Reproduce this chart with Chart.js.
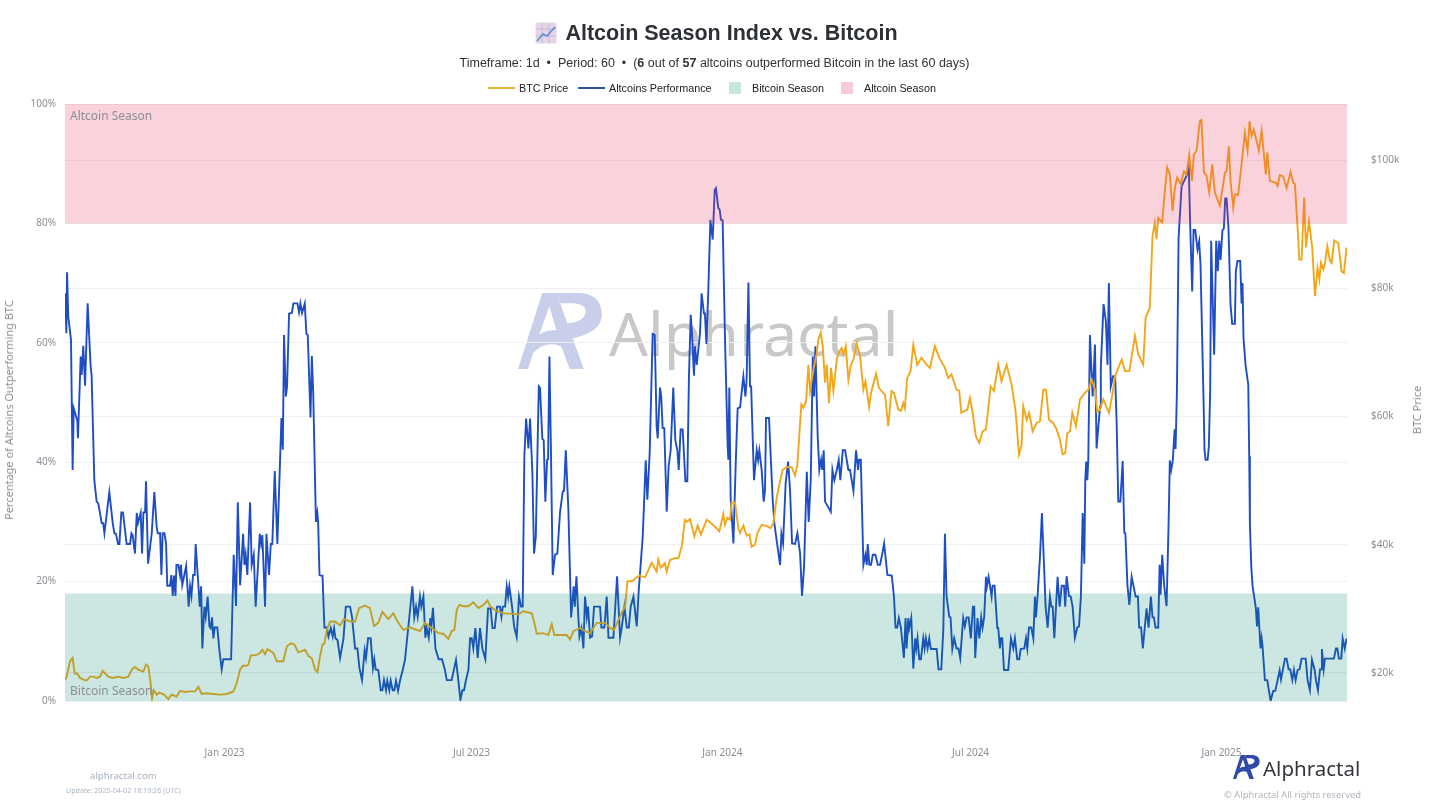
<!DOCTYPE html>
<html>
<head>
<meta charset="utf-8">
<title>Altcoin Season Index vs. Bitcoin</title>
<script src="https://cdn.jsdelivr.net/npm/chart.js@4"></script>
<style>
html, body { margin: 0; padding: 0; background: #fff; }
#page { position: relative; width: 1429px; height: 804px; overflow: hidden; font-family: "Liberation Sans", Arial, sans-serif; }
#page > * { position: absolute; }
canvas { left: 0; top: 0; }
#title { left: 0; width: 1429px; top: 18px; text-align: center; font-size: 21.5px; line-height: 30px; font-weight: bold; color: #2e3038; }
#title span { margin-left: 34px; }
#subtitle { left: 0; width: 1429px; top: 55px; text-align: center; font-size: 12.5px; line-height: 16px; color: #333; }
.legendItem { top: 82px; font-size: 10.8px; line-height: 13px; color: #222; white-space: nowrap; }
.legendLine { height: 2px; width: 27px; top: 87px; }
.legendBox { width: 12px; height: 12px; top: 82px; }
.note { font-family: "Noto Sans", sans-serif; white-space: nowrap; }
#watermarkText { left: 609px; top: 291px; font-size: 61px; line-height: 84px; color: #c8c8c8; }
.zoneLabel { left: 70px; font-size: 12px; line-height: 16px; color: #8b8e96; }
.axisTitle { font-size: 11px; line-height: 14px; color: #8a8e96; transform: translate(-50%, -50%) rotate(-90deg); }
</style>
</head>
<body>
<div id="page">
  <svg width="0" height="0" style="left:0;top:0">
    <symbol id="apLogo" viewBox="0 0 84 77">
      <path fill-rule="evenodd" d="M24 1 L38 1 L65 76 L51 76 L43 54 Q28 47 15 60 L10 76 L0 76 Z M31 14 L21 42 Q29 37 38 38 Z"/>
      <path d="M38 1 L62 1 Q83 3 83 23 Q82 40 53 46 L48 31 Q66 30 67 19 Q66 11 53 11 L42 11 Z"/>
    </symbol>
  </svg>

  <svg id="watermarkLogo" style="left:518px;top:292px" width="85" height="78" fill="#c9cfea"><use href="#apLogo"/></svg>
  <div id="watermarkText" class="note">Alphractal</div>

  <canvas id="seasonChart" width="1429" height="804"></canvas>

  <svg style="left:535px;top:22px" width="22" height="22" viewBox="0 0 22 22">
    <rect x="0.5" y="0.5" width="21" height="21" rx="2" fill="#e6d5e8"/>
    <path d="M7 1V21M14 1V21M1 7H21M1 14H21" stroke="#c9b7d2" stroke-width="1"/>
    <path d="M2 19 L8 12 L12 14 L20 5" fill="none" stroke="#5b8fd0" stroke-width="1.6"/>
  </svg>
  <div id="title"><span>Altcoin Season Index vs. Bitcoin</span></div>
  <div id="subtitle">Timeframe: 1d &nbsp;•&nbsp; Period: 60 &nbsp;•&nbsp; (<b>6</b> out of <b>57</b> altcoins outperformed Bitcoin in the last 60 days)</div>

  <div class="legendLine" style="left:488px;background:#e6b040"></div>
  <div class="legendItem" style="left:519px">BTC Price</div>
  <div class="legendLine" style="left:578px;background:#2d4fa8"></div>
  <div class="legendItem" style="left:609px">Altcoins Performance</div>
  <div class="legendBox" style="left:729px;background:#c8e6e0"></div>
  <div class="legendItem" style="left:752px">Bitcoin Season</div>
  <div class="legendBox" style="left:841px;background:#f8ccd4"></div>
  <div class="legendItem" style="left:864px">Altcoin Season</div>

  <div class="note zoneLabel" style="top:108px">Altcoin Season</div>
  <div class="note zoneLabel" style="top:683px">Bitcoin Season</div>

  <div class="note axisTitle" style="left:9px;top:410px">Percentage of Altcoins Outperforming BTC</div>
  <div class="note axisTitle" style="left:1417px;top:410px">BTC Price</div>

  <div class="note" style="left:90px;top:768px;font-size:9.6px;line-height:15px;color:#a7b1c0">alphractal.com</div>
  <div class="note" style="left:66px;top:784px;font-size:7.1px;line-height:12px;color:#a9b5c8">Update: 2025-04-02 18:19:26 (UTC)</div>

  <svg style="left:1233px;top:754px" width="27" height="26" fill="#2f4aa8"><use href="#apLogo"/></svg>
  <div class="note" style="left:1263px;top:753px;font-size:20.5px;line-height:30px;color:#33363d">Alphractal</div>
  <div class="note" style="left:1224px;top:787px;font-size:9.4px;line-height:15px;color:#b2b6bd">© Alphractal All rights reserved</div>
</div>

<script>
// x values are days since 2022-09-06
var tickDays = [117, 298, 482, 664, 848];
var tickLabels = ['Jan 2023', 'Jul 2023', 'Jan 2024', 'Jul 2024', 'Jan 2025'];

var altDays = [0,1,1.5,2.4,4.4,5.6,6.4,9,9.5,11.5,12.2,13.4,14.7,16.6,18.8,19.5,21.5,23.2,24.4,26.9,28,28.9,32.5,35,36.2,37.4,38.9,39.9,41.3,42.5,45.2,47.7,48.7,49.6,51.3,52.6,53.5,55.5,56.5,57.5,58.7,59.4,60.9,63.6,65.5,67.2,68,69.7,70.7,71.6,72.9,74.1,75,77,78,79,80,81,81.7,83.1,84.3,85,86,88.8,90.7,91.7,92.7,93.9,95.1,95.8,97.3,98.8,99.8,100.7,102.2,103.2,104.6,105.9,106.8,107.8,108.8,109.8,111.7,113.2,114.9,116.1,121.8,123.7,125.4,126.7,128.4,130.6,131.6,132.5,133.7,135.7,136.9,138.4,139.8,142.8,143.8,144.7,146.7,147.7,149.6,150.9,152,153.8,155.7,157.7,158.7,159.7,160.6,161.9,162.8,164.3,166.3,167.5,170.4,171.6,172.6,173.8,175.8,177,178,180,181,182,184,185,185.6,186.6,187.3,188.8,190.2,192,193.2,194.9,196.3,197.3,198.3,199.8,201.7,204.2,205.9,209,210.5,212.7,214.4,215.9,
  217.8,219.7,220.7,222.2,224.1,225.8,226.8,227.8,229.7,231.5,232.7,233.9,235.4,236.3,237.8,238.8,240.3,241.5,242.7,244.2,245.6,247.6,249.3,251,252.5,254.7,256.1,257.4,258.6,260.3,261.3,262.8,264.2,265.2,266.7,267.9,268.6,269.8,271.6,274,276.4,278.6,279.9,283.5,286.7,288.4,289.9,291.4,292.6,294,295.8,297,298.2,299.4,300.9,302.6,304.3,306,308.2,310.2,312.1,313.4,315.1,316.8,319,320,321,322.7,323.9,324.9,325.8,327.8,329.3,331.2,332.9,334.4,335.6,336.8,338.1,339.8,341,342.7,343.9,345.2,346.6,347.4,348.3,350,351,352.2,353.5,354.2,355.2,356.2,357.6,359.3,361,363,365,365.9,367.2,369.1,371.1,373,373.8,375,376.4,377.2,378.7,380.1,381.3,382.6,383.5,385,386.5,387.9,392.3,393.3,395.5,397.2,398.5,402.1,404.8,407,408.2,410.2,411.9,413.4,414.8,416.8,419.2,420.7,
  423.6,425.8,427,428.7,430.9,432.4,433.8,434.6,436.3,437.2,438.2,439.4,441.2,442.6,444.1,446,447.5,449,450,451.4,452.9,454.9,456.3,457.5,458.8,459.7,461.2,461.9,463.2,465.6,466.8,468.5,469.2,470.3,471.7,473.2,474.9,476.4,477.3,479,480,481,482.2,483.9,485.9,486.4,487.1,488.1,490.1,491.8,493.2,495,497.4,498.9,499.8,501.1,502.3,503.1,505.2,507.2,508.2,509.1,510.8,512.3,513.3,514,516.2,518.9,520.1,522.1,524.3,525.3,526.5,528.4,530.2,531.6,533.1,535.3,537,539,540.4,541.9,543.9,545.3,546.8,548.3,549.2,550.2,551.9,553.1,554.4,555.3,556.3,557.3,561.5,562.7,564.1,565.9,567.3,568.5,570.3,572,574.4,575.6,578.1,580,581.5,582.2,583.5,585.4,586.9,587.9,588.6,589.8,591,592.3,594.2,596,597.6,599.1,600.6,603,606.2,
  607.8,609,610.2,611.4,612.9,615.1,616.3,617.1,618.3,619,620.5,622,623.4,624.2,625.1,626.4,627.6,629.3,630.3,631.2,632.5,633.7,634.9,639.1,640.5,642.5,644,645.2,646.4,648.4,649.3,650.6,652,653.7,655.1,656.4,658.6,659.8,661.1,662.6,664.2,665.7,666.7,667.4,669.1,670.4,671.8,672.8,674,675.3,676,677.2,679.4,680.1,681.6,683.6,684.3,685.5,686.3,687.2,688.5,691.6,693.6,695.3,696.5,698.2,699.7,700.7,703.4,704.6,705.6,706.8,708.5,710,711.2,711.9,713.1,714.9,716.3,717.8,719,720.5,722.2,723.2,724.2,725.4,727.8,729.3,730.8,732.5,733.4,734.4,736.1,737.4,738.8,740.5,742.2,743.5,744.9,746.2,747.4,748.1,748.8,749.6,750.3,751.5,753.5,755.2,756.4,757.6,758.9,759.5,761.5,763.2,764.4,765.4,766.8,768.5,770,771.1,772.3,773.8,775.5,776.7,777.5,779,780.4,782.1,785,786.7,787.6,789,790.3,793,794.5,796.2,797.4,798.4,799.6,801.6,802.6,803.3,804.5,806,807.7,809.2,810.1,811.1,812.3,813.6,814.3,815.3,816.5,818.7,822.8,824,825,826.5,827.5,828.7,830.4,831.6,832.6,834.9,835.5,836.3,837.8,838.7,839.7,840.4,842.6,844.1,845.3,846.3,847.3,848.7,849.7,850.7,851.7,853.1,854.6,855.8,857.8,858.5,859.7,861.7,862.7,863.4,864.1,865.6,867.6,868.3,868.8,869.8,870.8,873.2,874,874.9,876.6,877.4,878.1,879.8,881.5,884,885.9,887.4,889.1,890.6,891.6,893,894.5,895.7,897.2,898.4,899.9,901.1,902.3,903.8,905.2,906.7,909.7,911.1,912.8,914.3,916.3,917.2,918.7,920.2,921.2,921.6,922.9,923.8,930.4,931.9,932.9,934.1,935.8,936.8,938.3,939.7];
var altValues = [68.3,61.6,71.8,64.4,60.5,38.7,49,47,44,57.7,54.6,59.5,52.8,66.6,56,54.6,37,33.4,33.1,29.8,29.8,28.1,35,29.8,28.1,28,26.3,26.3,31.6,31.6,26.3,26.3,28.1,27.8,24.7,31.5,29.8,31.5,24.7,31.6,31.6,36.8,23,28.1,35,29.2,28.1,28.1,21.1,28.1,28.1,26.4,19.3,19.3,21.1,17.6,21,17.6,22.8,22.8,21.1,22.8,19.4,22.6,15.8,19.2,17.6,21.1,21.1,26.3,21.1,15.8,19.2,8.8,15.8,14.1,17.5,12.5,12.2,14,10.5,12.3,12.3,8.5,5.3,7,7,24.5,15.9,33.3,19.4,28,22.8,24.5,21.1,33.3,22.8,24.5,15.8,28,26.3,27.8,15.8,28,21.1,26.3,26.3,38.5,26.3,40.4,47.4,42.1,61.3,51,52.7,64.9,65,66.6,66.6,65.1,66.6,65,66.6,61.5,61.3,47.5,57.8,51.6,30,31.5,30,21.1,21,21,12.3,12.3,10.8,12.2,10.8,12.2,10.5,10.2,7.2,10.5,15.8,15.8,14,8.8,8.8,5.5,
  3.5,8.5,7.2,10.5,10.5,5.5,7,5.3,5.2,1.8,1.8,3.5,1.8,3.4,1.8,3.4,1.8,1.8,3.4,1.7,3.4,5.2,6.9,10.8,14.1,19.2,14,15.8,14.1,17.5,15.8,17.5,10.6,12.2,10.6,13.9,12.5,15.6,8.8,7,7,5.2,3.5,3.5,6.9,3.5,0.2,1.8,1.8,3.5,5.2,10.5,10.5,8.8,12.2,7.2,12.2,8.8,7,15.5,15.5,12.2,12.2,15.8,15.8,14.1,15.8,15.8,19.2,17.5,19.2,15.8,12.5,10.7,17.5,15.8,15.8,41,47.3,42.3,47.3,38.2,24.7,27.5,43.7,52.7,52.4,43.9,43.7,33.4,40.4,40.5,57.7,43.7,21.1,24.5,24.7,31.7,35.1,35.2,42,32,14,19.2,15.8,20.9,14.1,10.8,12.2,8.8,17.5,14.1,15.8,10.6,10.8,15.8,15.8,12.3,12.3,17.5,10.6,10.6,20.9,10.6,12.3,15.8,12.3,12.3,15.8,17.5,12.5,18.6,
  27.5,40.3,33.7,41.5,61.5,61.3,46,44,52.5,51,45.7,45.7,31.7,39.3,42,52.5,43.7,42,38.7,45.5,45.5,36.8,36.8,54.4,64.7,61.6,54.5,59.4,56.3,61.6,68.3,64.9,64.9,59.8,68.9,80.6,77.3,85.6,85.9,82.6,82.3,80.6,80.5,61,42.6,40.4,52.5,33.7,26.4,39.8,49,49.2,54.4,51,53.8,70.1,52.7,52.7,37,42,40.4,42,38.7,33.4,35.4,47.4,47.4,33.7,29.8,26.4,22.8,28,26.4,36.5,40.1,35.4,26.4,26.3,28.1,24.7,17.6,22.5,38.4,30,37,57.7,51,59.4,44.3,38.7,40.4,38.7,42,33.4,31.7,38.7,37,38.7,40.4,37,42,42,38.7,38.7,35.2,42,38.7,40.4,40.4,22.8,24.5,22.8,26.3,22.8,22.8,24.5,24.5,22.8,22.8,24.5,26.4,21.1,21,
  17.5,12.3,12.3,13.9,12.3,7.2,13.9,8.8,13.9,12.2,13.9,5.4,10.5,8.8,10.5,7,7,10.5,8.8,10.5,8.8,10.5,8.7,8.7,5.3,5.3,11.9,28,17.5,14.1,14,8.7,10.5,8.8,8.8,7.2,13.9,12.5,14,14,10.5,15.8,15.8,7.2,13.9,10.5,14,12.3,14.1,20.8,19.2,20.8,17.5,19.3,19.3,12.2,12.2,8.8,10.5,10.5,5.2,5.2,10.5,8.8,10.5,7,7,8.7,8.8,10.5,8.8,12.3,12.3,10.5,17.5,14,17.5,24.2,31.5,23,15.8,12.3,17.5,15.8,15.8,10.5,20.8,15.8,19.3,19.3,15.8,20.9,17.6,17.5,15.8,10.6,12.3,12.5,17.5,31.5,23,37,40.1,37,40.4,61.3,51,59.7,42.3,45.7,49.3,56,66.5,63.6,56.3,70,52.7,54.4,54.4,46.5,33.4,33.4,40.2,28.2,28.1,19.4,16.1,20.8,17.5,17.5,12.3,12.3,8.8,15.5,12.3,17.5,14,14,12.3,12.3,22.8,17.8,24.5,19.2,15.9,29.8,40.3,38.7,40.3,45.5,42.2,52,77.5,86.2,88.2,89.3,79.8,68.6,78.9,78.9,75.6,77,73,49.6,42.1,40.4,40.4,42.6,52.1,77.1,58,77.1,72,77.1,73.9,78.9,79.1,84.2,84.2,79.2,66.4,63.2,63.2,72,73.7,73.7,66.6,70,60.8,56.3,53,41,29.8,22.5,19.2,15.5,12.5,15.7,8.8,10.5,9.1,3.5,3.5,0,1.7,1.7,3.5,5.1,3.6,5.3,7.1,7.1,5.3,5.3,3.5,5.2,3.5,5.2,5.3,7.1,7.1,3.5,1.8,6.9,5.2,3.5,1.8,5.3,5.3,8.7,5.3,7.1,7.1,8.8,8.8,7.1,7.1,10.5,8.8,10.5];

// BTC price in thousands of dollars
var btcDays = [0,1.2,3.7,5.6,7.1,9,11,13.9,15.9,18.3,20.8,23.2,25.7,27.6,31.8,35,39.1,42.8,46.5,49,51.3,53.8,57.5,59.4,61.1,62.8,63.8,65,67.2,69.2,72.6,75.8,78.2,81.9,84.3,88,91.7,95.4,97.8,100.2,103.9,108.8,113.7,118.6,123.5,125.9,128.4,130.3,132.8,134.5,136.2,140.7,143,144.7,146.7,148.4,152.8,155.3,160.1,162.6,165.5,168.2,171.1,176,178.5,180.9,183.4,185.1,187,188.8,190.2,192,194.4,198,201.7,204.6,209,212.7,215.6,
  220,223.6,226.6,229.7,232.7,237.1,240.7,244.4,248.1,253,256.6,260.3,264,268.9,273.8,277.4,281.1,283.5,285.5,287.2,289.2,292.1,295.8,299.4,303.1,306.8,309.7,311.7,315.3,321.4,328.8,332.4,336.1,342.2,343.9,345.9,350.8,354.4,356.9,358.8,364.2,367.9,370.3,372.8,377.7,381.3,385,389.9,396,399.7,402.6,405.8,410.7,412.4,415.6,421.2,
  425.3,430.2,433.8,435,436.8,439.9,441.2,443.6,447.3,449.8,452.2,454.6,456.3,458.3,461.5,463.9,466.3,470.5,472.9,476.6,479.8,482.7,483.9,485.7,487.6,488.8,491.3,493.7,495,497.4,499.8,501.8,503.5,505.9,507.7,510.8,514.5,517.4,519.4,521.8,524.3,526.2,529.2,532.8,535.3,537,539.9,541.4,543.4,545.1,546.3,548.7,551.2,552.4,554.1,555.6,557.3,558.5,560.2,561.7,563.4,565.9,567.1,569.5,570.7,572.5,574.4,576.1,578.1,580.5,583,585.4,586.9,589.6,591,594.7,596.7,601.3,
  603.6,606,607.8,611,613,614.6,615.8,617.5,620,622,624.9,628,631.7,634.2,637.8,641,645.2,647.6,650,653.7,655.7,657.2,661.6,663.5,665.5,667.9,670.4,672.8,675.3,678.7,681.1,684.3,686.7,690.4,694.1,697,699.5,701.4,702.6,705.1,707,709.5,712.4,714.9,717.3,719.3,721.5,724.6,727.1,729.5,731.5,733.4,734.9,736.9,738.6,741.3,744.2,747.9,750.3,752.8,755.2,756.9,758.9,761.3,765.5,767.9,769.9,774.8,777.2,780.4,784.5,787,
  790.6,792.3,795.4,797.4,799.1,800.3,801.6,804.5,806.4,808.2,810.1,812.1,813.8,815.5,818.2,820.4,822.3,824.3,826.3,827.7,829.7,832.1,833.3,835.1,837,839,841.2,843.1,846.8,850.5,851.7,853.4,854.6,856.6,857.8,860.2,863.2,865.1,867.1,868.6,870,871.7,875.4,877.4,880.5,881.5,883.5,887.9,889.1,890.8,893.2,895.7,898.6,900.6,901.8,904.2,905,906.7,908.6,909.9,912.1,914.5,916.5,918.4,919.7,920.9,922.6,923.8,925.5,927.5,928.7,930.6,933.6,936,937.7,939.7];
var btcValues = [18.9,19.4,21.8,22.3,19.9,19.9,19.2,18.9,18.8,19.4,19.4,19.2,19.4,20.3,19.4,19.2,19.4,19.2,19.4,20.5,20.9,20.5,20.2,21.3,21,18.4,15.9,17.3,16.6,16.9,16.6,15.9,16.6,16.3,17.2,17,17.1,17.1,17.8,16.7,16.8,16.7,16.6,16.7,17.1,18.4,20.5,21.1,21.1,21.3,22.7,22.8,23.1,23.6,22.9,23.7,23.1,21.8,21.8,24.1,24.6,24.4,23.2,23.6,22.6,22.3,20.5,20.1,22.6,24.4,24.6,26.7,28,28,27.4,28.4,28,28,30.1,
  30.5,30.1,27.3,27.8,29.5,28.4,29.3,27.8,26.7,27.1,26.8,26.5,27.8,27,26.2,26.1,25.3,26.5,26.7,29.8,30.6,30.4,30.4,31,30.1,30.6,31.3,30.4,29.8,29.3,29.2,29.1,29.6,29.3,28,26.1,26.2,25.9,27.6,25.9,25.9,25.9,25.2,26.5,27,26.5,26.2,27.8,27.8,27,26.7,28.3,30.4,34.3,34.3,35.2,
  34.9,37.2,35.8,37.7,36.4,37.1,35.8,37.6,37.9,37.9,39.7,43.9,43.6,44,41.3,43,41.6,43.9,43.5,42.8,42.1,44.8,43.1,44.2,43.9,46.6,46.6,42.6,41.8,43,41.4,41.6,39.7,40,41.8,43.1,42.9,42.6,43.4,47.3,49.9,51.7,52.1,52.1,50.8,52.5,61.9,61.4,62.4,68.1,64,67.3,69.9,72,73.1,71,65.3,68.1,62.1,67.6,64,68.9,69.9,70.7,69.7,71,65.7,67.9,68.9,71.4,69.4,64.2,65.5,61.5,63.7,66.7,64.5,63.4,
  58.5,64,63.7,61.1,60.9,62.1,61.3,66,67.1,71.2,68.1,69.2,68.1,67.6,71,69.2,67.6,66,66.6,64.2,64,60.6,61.1,62.9,60.6,56.9,55.9,57.7,58,64.7,64,68.1,65.5,68.1,65,60.8,54.1,55.6,61.6,59.5,60.6,57.7,59,59.3,64.2,64.2,59.5,59,58,56.4,54.1,54.3,57.4,57.7,60.6,58.5,62.7,63.7,64.2,65.8,64.2,60.8,61.1,62.7,60.6,63.4,66.3,68.9,67.1,67.1,72.6,69.7,
  68.1,75.4,77,88.2,90.3,87.7,91,90.3,95.2,98.9,97.8,92.1,95.7,97.3,96.3,98.3,97.8,100.9,96.8,100.9,101.5,106.1,106.3,98.1,97.6,95,99.4,95,92.9,98.1,98.3,102.2,96.8,92.6,94.7,94.6,100.4,104.3,101.5,106.1,103.8,104.8,101.5,104.6,97.8,101.2,96.8,96.5,96,97.7,97.5,95.7,98.2,96.5,96.3,87.9,84.5,84.5,94.2,86.4,90.5,86.4,78.8,83.2,81.4,84,83,83.8,86.6,84.3,84,87.5,87.1,82.7,82.4,86.4];

var leftTicks = [0, 20, 40, 60, 80, 100];
var rightTicks = [20, 40, 60, 80, 100];
var bitcoinSeasonBand = [0, 18];
var altcoinSeasonBand = [80, 100];

function toPoints(days, values) {
    return days.map(function(d, i) { return { x: d, y: values[i] }; });
}

function bandPoints(top) {
    return [{ x: 0, y: top }, { x: 940, y: top }];
}

function fixTicks(list) {
    return function(scale) {
        scale.ticks = list.map(function(v) { return { value: v }; });
    };
}

var gridColor = '#edf0f4';
var tickColor = '#8a8e96';
var tickFont = { family: 'Noto Sans', size: 10 };

new Chart(document.getElementById('seasonChart').getContext('2d'), {
    type: 'line',
    data: {
        datasets: [
            {
                label: 'Altcoin Season',
                data: bandPoints(altcoinSeasonBand[1]),
                yAxisID: 'y',
                borderWidth: 0,
                pointRadius: 0,
                backgroundColor: 'rgba(230, 50, 90, 0.22)',
                fill: { value: altcoinSeasonBand[0] },
                order: 0
            },
            {
                label: 'Bitcoin Season',
                data: bandPoints(bitcoinSeasonBand[1]),
                yAxisID: 'y',
                borderWidth: 0,
                pointRadius: 0,
                backgroundColor: 'rgba(0, 128, 110, 0.2)',
                fill: { value: bitcoinSeasonBand[0] },
                order: 1
            },
            {
                label: 'BTC Price',
                data: toPoints(btcDays, btcValues),
                yAxisID: 'y1',
                borderColor: '#f2a71b',
                borderWidth: 1.9,
                pointRadius: 0,
                tension: 0,
                order: 2
            },
            {
                label: 'Altcoins Performance',
                data: toPoints(altDays, altValues),
                yAxisID: 'y',
                borderColor: '#1f4ec4',
                borderWidth: 1.9,
                pointRadius: 0,
                tension: 0,
                order: 3
            }
        ]
    },
    options: {
        responsive: false,
        animation: false,
        layout: { padding: { top: 104 } },
        plugins: { legend: { display: false }, title: { display: false } },
        scales: {
            x: {
                type: 'linear',
                min: 0,
                max: 940,
                afterBuildTicks: fixTicks(tickDays),
                afterFit: function(scale) { scale.height = 103; },
                grid: { display: false },
                border: { display: false },
                ticks: {
                    color: tickColor,
                    font: tickFont,
                    padding: 38,
                    maxRotation: 0,
                    autoSkip: false,
                    callback: function(v) { return tickLabels[tickDays.indexOf(v)]; }
                }
            },
            y: {
                position: 'left',
                min: 0,
                max: 100,
                afterBuildTicks: fixTicks(leftTicks),
                afterFit: function(scale) { scale.width = 65; },
                grid: { color: gridColor, drawTicks: false },
                border: { display: false },
                ticks: {
                    color: tickColor,
                    font: tickFont,
                    padding: 9,
                    callback: function(v) { return v + '%'; }
                }
            },
            y1: {
                position: 'right',
                min: 15.6,
                max: 108.8,
                afterBuildTicks: fixTicks(rightTicks),
                afterFit: function(scale) { scale.width = 82; },
                grid: { color: gridColor, drawTicks: false },
                border: { display: false },
                ticks: {
                    color: tickColor,
                    font: tickFont,
                    padding: 24,
                    callback: function(v) { return '$' + v + 'k'; }
                }
            }
        }
    }
});
</script>
</body>
</html>
